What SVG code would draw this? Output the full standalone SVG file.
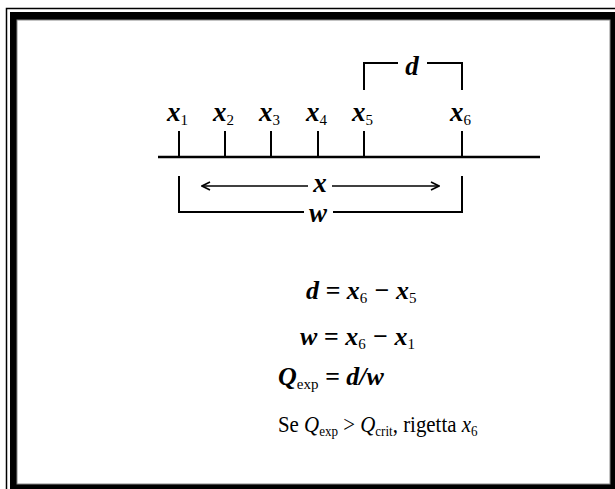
<svg xmlns="http://www.w3.org/2000/svg" width="615" height="489" viewBox="0 0 615 489">
<defs>
<style>
text{font-family:'Liberation Serif','DejaVu Serif',serif;fill:#000}
.lab{font-size:27px;font-style:italic;font-weight:bold}
.sub{font-size:15px;font-style:normal;font-weight:normal}
.eq{font-size:26px;font-style:italic;font-weight:bold}
.ln{stroke:#000;fill:none}
</style>
<marker id="ah" viewBox="0 0 10 10" refX="9" refY="5" markerWidth="10" markerHeight="10" markerUnits="userSpaceOnUse" orient="auto-start-reverse">
<path d="M1,1 L9,5 L1,9" fill="none" stroke="#000" stroke-width="1.6"/>
</marker>
</defs>
<rect x="0" y="0" width="615" height="489" fill="#fff"/>
<g id="frame">
<rect x="6.5" y="8.5" width="620" height="500" fill="none" stroke="#000" stroke-width="1.5"/>
<rect x="10" y="12" width="620" height="500" fill="#000"/>
<rect x="17" y="20" width="593" height="464" fill="#fff" stroke="#888" stroke-width="1"/>
</g>
<g id="connectors">
<line class="ln" x1="158" y1="157" x2="540" y2="157" stroke-width="2.5"/>
<g stroke-width="2">
<line class="ln" x1="179" y1="131" x2="179" y2="157"/>
<line class="ln" x1="225" y1="131" x2="225" y2="157"/>
<line class="ln" x1="271" y1="131" x2="271" y2="157"/>
<line class="ln" x1="318" y1="131" x2="318" y2="157"/>
<line class="ln" x1="364" y1="131" x2="364" y2="157"/>
<line class="ln" x1="462" y1="131" x2="462" y2="157"/>
</g>
<path class="ln" d="M364,90 V63 H398 M427,63 H462 V90" stroke-width="2"/>
<line class="ln" x1="308" y1="186" x2="202" y2="186" stroke-width="1.6" marker-end="url(#ah)"/>
<line class="ln" x1="332" y1="186" x2="439" y2="186" stroke-width="1.6" marker-end="url(#ah)"/>
<path class="ln" d="M179,176 V212 H304 M333,212 H462 V176" stroke-width="2"/>
</g>
<g id="labels">
<text class="lab" x="167" y="121">x<tspan class="sub" dy="4">1</tspan></text>
<text class="lab" x="213" y="121">x<tspan class="sub" dy="4">2</tspan></text>
<text class="lab" x="259" y="121">x<tspan class="sub" dy="4">3</tspan></text>
<text class="lab" x="306" y="121">x<tspan class="sub" dy="4">4</tspan></text>
<text class="lab" x="352" y="121">x<tspan class="sub" dy="4">5</tspan></text>
<text class="lab" x="450" y="121">x<tspan class="sub" dy="4">6</tspan></text>
<text class="lab" x="412" y="75" text-anchor="middle">d</text>
<text class="lab" x="320" y="192" text-anchor="middle">x</text>
<text class="lab" x="318" y="222" text-anchor="middle">w</text>
</g>
<g id="equations">
<text class="eq" x="306" y="299">d = x<tspan class="sub" dy="4">6</tspan><tspan dy="-4"> − x</tspan><tspan class="sub" dy="4">5</tspan></text>
<text class="eq" x="300" y="345">w = x<tspan class="sub" dy="4">6</tspan><tspan dy="-4"> − x</tspan><tspan class="sub" dy="4">1</tspan></text>
<text class="eq" x="278" y="385">Q<tspan class="sub" dy="4" font-weight="bold">exp</tspan><tspan dy="-4"> = d/w</tspan></text>
<text transform="translate(278,432) scale(0.87,1)" x="0" y="0" font-size="24">Se <tspan font-style="italic">Q</tspan><tspan font-size="15" dy="4">exp</tspan><tspan dy="-4"> &gt; </tspan><tspan font-style="italic">Q</tspan><tspan font-size="15" dy="4">crit</tspan><tspan dy="-4">, rigetta </tspan><tspan font-style="italic">x</tspan><tspan font-size="15" dy="4">6</tspan></text>
</g>
</svg>
